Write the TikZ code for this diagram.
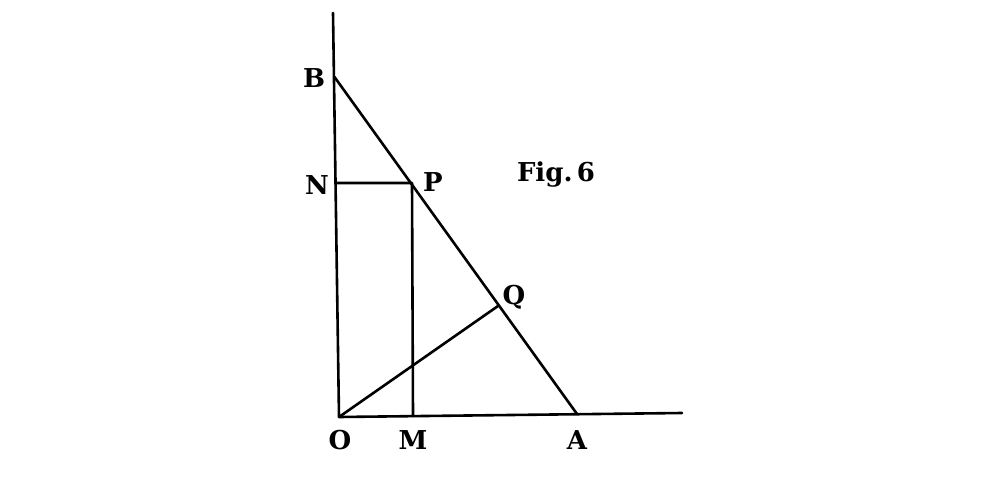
\documentclass[tikz,border=0pt]{standalone}
\usepackage{fontspec}
\newfontfamily\figfont{DejaVu Serif}
\begin{document}
\begin{tikzpicture}[x=1pt,y=-1pt,
  ln/.style={line width=2.6pt,line cap=round,line join=round},
  lbl/.style={font=\figfont\fontsize{26}{28}\selectfont\bfseries,inner sep=0pt}]
\useasboundingbox (0,0) rectangle (987,492);
\coordinate (T) at (333,13);
\coordinate (O) at (339,417);
\coordinate (E) at (682,413);
\coordinate (B) at (334.5,77);
\coordinate (N) at (336,183);
\coordinate (P) at (412,183);
\coordinate (M) at (413,416);
\coordinate (A) at (577,414);
\coordinate (Q) at (498,306);
\draw[ln] (T) -- (O) -- (E);
\draw[ln] (B) -- (A);
\draw[ln] (N) -- (P) -- (M);
\draw[ln] (O) -- (Q);
\node[lbl] (lB) at (314,78) {B};
\node[lbl] (lN) at (317,185) {N};
\node[lbl] (lP) at (433,182) {P};
\node[lbl] (lQ) at (514,297) {Q};
\node[lbl] (lO) at (340,440) {O};
\node[lbl] (lM) at (413,440) {M};
\node[lbl] (lA) at (577,440) {A};
\node[lbl,anchor=base] (fig) at (556,181) {Fig.\,6};
\end{tikzpicture}
\end{document}
